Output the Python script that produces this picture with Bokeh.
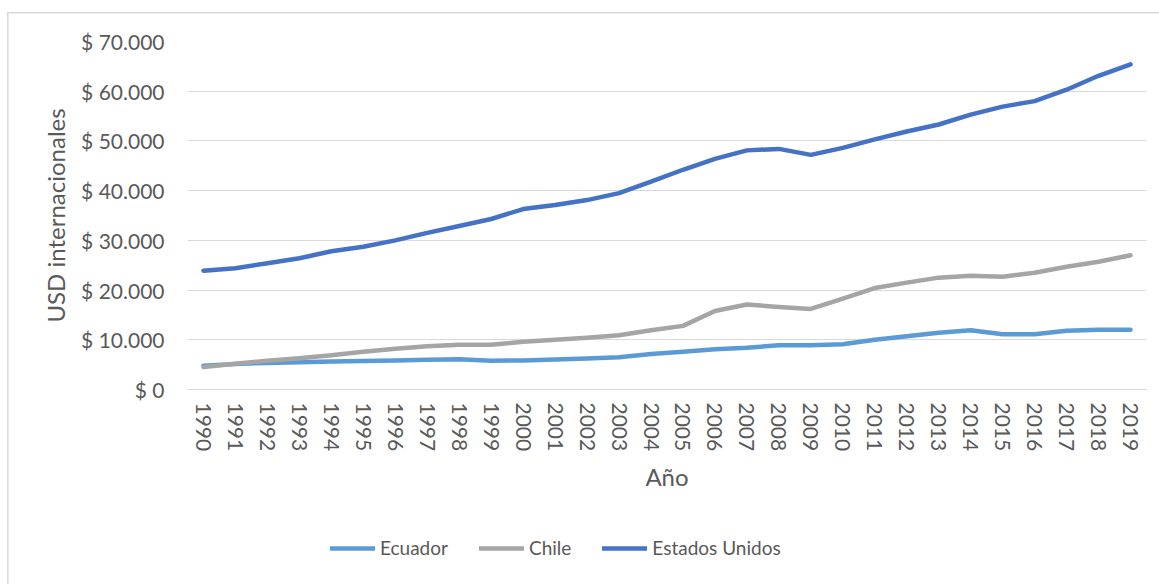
from bokeh.plotting import figure
from bokeh.layouts import column
from bokeh.models import FactorRange, Range1d, FixedTicker, Legend, LegendItem
from bokeh.embed import file_html
from bokeh.resources import INLINE

years = ["1990", "1991", "1992", "1993", "1994", "1995", "1996", "1997", "1998", "1999",
         "2000", "2001", "2002", "2003", "2004", "2005", "2006", "2007", "2008", "2009",
         "2010", "2011", "2012", "2013", "2014", "2015", "2016", "2017", "2018", "2019"]

ecuador = [4800, 5150, 5350, 5500, 5650, 5750, 5850, 6000, 6100, 5800,
           5850, 6050, 6250, 6500, 7150, 7600, 8100, 8400, 8900, 8900,
           9100, 10000, 10700, 11400, 11900, 11100, 11100, 11800, 12000, 12000]

chile = [4500, 5200, 5800, 6300, 6900, 7600, 8200, 8700, 9000, 9000,
         9600, 10000, 10400, 10900, 11900, 12800, 15800, 17100, 16600, 16200,
         18300, 20400, 21500, 22500, 22900, 22700, 23500, 24700, 25700, 27000]

usa = [23900, 24400, 25400, 26400, 27800, 28700, 30000, 31500, 32900, 34300,
       36300, 37100, 38100, 39500, 41800, 44200, 46400, 48100, 48400, 47200,
       48600, 50300, 51900, 53300, 55300, 56900, 58000, 60300, 63100, 65400]

y_ticks = [0, 10000, 20000, 30000, 40000, 50000, 60000, 70000]
y_tick_labels = ["$ 0", "$ 10.000", "$ 20.000", "$ 30.000", "$ 40.000",
                 "$ 50.000", "$ 60.000", "$ 70.000"]

series_names = ["Ecuador", "Chile", "Estados Unidos"]
series_colors = ["#5B9BD5", "#A5A5A5", "#4472C4"]
series_values = [ecuador, chile, usa]

FONT = "Lato"
TEXT = "#595959"
GRID = "#D9D9D9"
W, H_MAIN, H_LEG = 1159, 530, 54

p = figure(width=W, height=H_MAIN,
           x_range=FactorRange(*years, range_padding=0),
           y_range=Range1d(0, 70000),
           output_backend="svg", toolbar_location=None,
           min_border_left=187, min_border_right=13,
           min_border_top=41, min_border_bottom=H_MAIN - 389)
p.outline_line_color = None
p.background_fill_color = "white"
p.border_fill_alpha = 0

line_kw = dict(line_width=4.5, line_cap="round", line_join="round")
for vals, col in zip(series_values, series_colors):
    p.line(years, vals, line_color=col, **line_kw)

# axes
p.yaxis.ticker = FixedTicker(ticks=y_ticks)
p.yaxis.major_label_overrides = dict(zip(y_ticks, y_tick_labels))
p.yaxis.axis_line_color = None
p.yaxis.major_tick_line_color = None
p.yaxis.minor_tick_line_color = None
p.yaxis.major_label_standoff = 17
p.yaxis.major_label_text_font = FONT
p.yaxis.major_label_text_font_size = "21px"
p.yaxis.major_label_text_color = TEXT
p.yaxis.axis_label = "USD internacionales"
p.yaxis.axis_label_text_font = FONT
p.yaxis.axis_label_text_font_size = "24px"
p.yaxis.axis_label_text_font_style = "normal"
p.yaxis.axis_label_text_color = TEXT
p.yaxis.axis_label_standoff = 8

p.xaxis.axis_line_color = GRID
p.xaxis.major_tick_line_color = None
p.xaxis.minor_tick_line_color = None
p.xaxis.major_label_orientation = "vertical"
p.xaxis.major_label_standoff = 7
p.xaxis.major_label_text_font = FONT
p.xaxis.major_label_text_font_size = "21px"
p.xaxis.major_label_text_color = TEXT
p.xaxis.axis_label = "Año"
p.xaxis.axis_label_text_font = FONT
p.xaxis.axis_label_text_font_size = "24px"
p.xaxis.axis_label_text_font_style = "normal"
p.xaxis.axis_label_text_color = TEXT
p.xaxis.axis_label_standoff = 8

p.xgrid.grid_line_color = None
p.ygrid.grid_line_color = GRID
p.ygrid.grid_line_width = 1.2
p.ygrid.ticker = FixedTicker(ticks=y_ticks)

# legend strip: same series, y-range placed outside the data so only the legend shows
pl = figure(width=W, height=H_LEG, x_range=p.x_range, y_range=Range1d(100000, 100001),
            output_backend="svg", toolbar_location=None,
            x_axis_type=None, y_axis_type=None,
            min_border_left=0, min_border_right=0, min_border_top=0, min_border_bottom=0)
pl.outline_line_color = None
pl.background_fill_alpha = 0
pl.border_fill_alpha = 0
pl.xgrid.visible = False
pl.ygrid.visible = False
leg_renderers = [pl.line(years, vals, line_color=col, **line_kw)
                 for vals, col in zip(series_values, series_colors)]

legend = Legend(items=[LegendItem(label=n, renderers=[r]) for n, r in zip(series_names, leg_renderers)],
                orientation="horizontal", location=(143, 25),
                glyph_width=45, glyph_height=20, label_height=20,
                label_standoff=5, spacing=31, padding=0, margin=0,
                border_line_color=None, background_fill_alpha=0,
                label_text_font=FONT, label_text_font_size="19px",
                label_text_color=TEXT)
pl.add_layout(legend, "center")

layout = column(p, pl, spacing=0)
# light grey chart-area border (left and top edges visible)
layout.styles = {"box-shadow": "inset 7px 12px 0 0 white, inset 8.5px 13.5px 0 0 #D9D9D9"}

open("out.html", "w").write(file_html(layout, INLINE))
